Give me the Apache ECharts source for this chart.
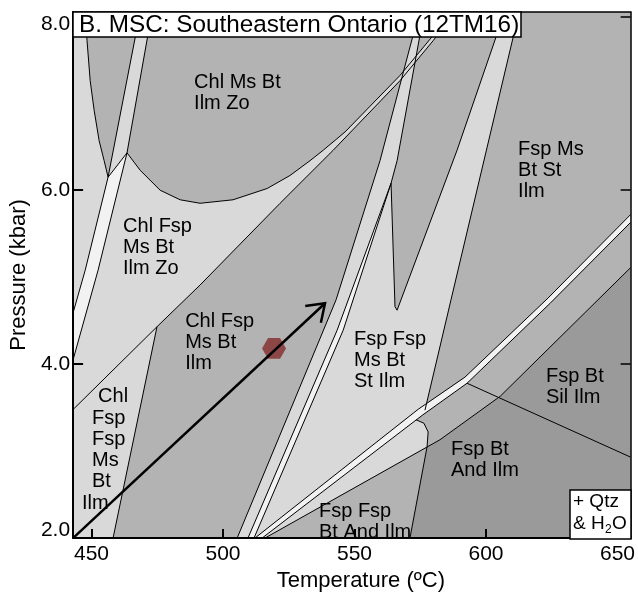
<!DOCTYPE html>
<html>
<head>
<meta charset="utf-8">
<script src="https://cdn.jsdelivr.net/npm/echarts@6/dist/echarts.min.js"></script>
<style>
html,body{margin:0;padding:0;background:#fff}
#chart{width:638px;height:597px}
</style>
</head>
<body>
<div id="chart"></div>
<script>
// Axis ticks
const tempTicks = [450, 500, 550, 600, 650];
const pressTicks = [2, 4, 6, 8];

// Phase boundaries, [T (°C), P (kbar)]
const parabola = [[447.6,8.05],[448.3,7.72],[449.5,7.26],[451.0,6.92],[452.9,6.57],[454.8,6.34],[456.3,6.15]];
const zoBandLeft = [[468.5,8.05],[456.3,6.15]];
const zoBandRight = [[473.0,8.05],[463.5,6.43]];
const zoCurve = [[463.5,6.43],[468.5,6.23],[476.1,6.00],[483.7,5.89],[491.3,5.85],[503.8,5.89],[516.8,6.02],[525.5,6.17],[533.1,6.34],[538.1,6.46],[546.4,6.67],[567.3,7.32],[579.9,7.78],[586.3,8.05]];
const diagLine = [[443.4,3.49],[474.9,4.43],[491.3,4.91],[521.7,5.85],[541.9,6.46],[567.3,7.26],[579.9,7.72],[588.2,8.05]];
const chlFspLine = [[474.9,4.43],[458.2,2.0]];
const leftStripA = [[456.3,6.15],[447.6,5.08],[443.0,4.59]];
const leftStripB = [[463.5,6.43],[452.5,5.08],[443.0,4.05]];
const leftStripTop = [[456.3,6.15],[463.5,6.43]];
const bandAL = [[574.6,8.05],[559.7,6.34],[543.0,4.74],[505.4,2.0]];
const bandAR = [[576.5,8.05],[566.2,6.34],[563.9,6.08]];
const stripL = [[563.9,6.08],[543.4,4.39],[509.5,2.0]];
const stripR = [[563.9,6.08],[545.7,4.39],[511.8,2.0]];
const wedgeL = [[563.9,6.08],[565.4,4.66],[566.2,4.62]];
const bandBL = [[566.2,4.62],[589.0,6.46],[603.8,7.76],[607.3,8.05]];
const bandBR = [[612.6,8.05],[586.7,4.74],[576.8,3.47]];
const cornerLine = [[573.4,3.36],[576.4,3.32],[578.0,3.22],[577.6,3.05],[571.1,2.0]];
const thinA = [[512.6,2.01],[574.2,3.48],[592.0,3.85],[623.6,4.76],[655,5.72]];
const thinB = [[514.9,2.0],[575.7,3.41],[592.8,3.78],[624.4,4.70],[655,5.63]];
const andLine = [[516.0,2.0],[582.5,3.13],[605.4,3.63],[655,5.11]];
const silLine = [[592.8,3.78],[655,2.93]];

// P–T path and sample estimate
const ptPath = [[443,2.0],[538.8,4.70]];
const sample = [519.4, 4.18];

// Field labels: text, T, P (top-left anchor)
const fieldLabels = [
  ['Chl Ms Bt\nIlm Zo', 489.0, 7.36],
  ['Chl Fsp\nMs Bt\nIlm Zo', 462.0, 5.70],
  ['Chl Fsp\nMs Bt\nIlm', 485.6, 4.61],
  ['Chl', 452.5, 3.75],
  ['Fsp\nFsp\nMs\nBt', 450.2, 3.49],
  ['Ilm', 446.4, 2.52],
  ['Fsp Ms\nBt St\nIlm', 612.2, 6.59],
  ['Fsp Fsp\nMs Bt\nSt Ilm', 549.8, 4.40],
  ['Fsp Bt\nSil Ilm', 622.8, 3.98],
  ['Fsp Bt\nAnd Ilm', 586.7, 3.14],
  ['Fsp Fsp\nBt And Ilm', 536.5, 2.43]
];

const FONT = '"Liberation Sans", Arial, Helvetica, sans-serif';
const LIGHT = '#d9d9d9', MED = '#b3b3b3', DARK = '#9a9a9a', WHITE = '#f2f2f2';
const rev = a => a.slice().reverse();

// Field polygons assembled from the boundaries
const fields = [
  [parabola.concat(rev(zoBandLeft)), MED],
  [zoBandRight.concat(zoCurve), MED],
  [[[458.2,2.0]].concat(diagLine.slice(1), rev(bandBL), rev(wedgeL).slice(1), stripL.slice(1)), MED],
  [bandAL.concat(rev(stripL), rev(bandAR)), LIGHT],
  [bandBR.concat(cornerLine.slice(0,4), andLine.slice(1), [[655,8.05]]), MED],
  [[[516.0,2.0],[577.6,3.05],[571.1,2.0]], MED],
  [[[577.6,3.05]].concat(andLine.slice(1), [[655,2.0],[571.1,2.0]]), DARK],
  [leftStripA.concat(rev(leftStripB)), WHITE],
  [stripL.concat(rev(stripR)), WHITE],
  [thinA.concat(rev(thinB)), WHITE]
];
const boundaries = [parabola, zoBandLeft, zoBandRight, zoCurve, diagLine, chlFspLine,
  leftStripA, leftStripB, leftStripTop, bandAL, bandAR, stripL, stripR, wedgeL,
  bandBL, bandBR, cornerLine, thinA, thinB, andLine, silLine];

function customBase(z, render) {
  return {
    type: 'custom', coordinateSystem: 'cartesian2d', clip: true, silent: true,
    animation: false, z: z, data: [[500, 4]], renderItem: render
  };
}

const series = [];
fields.forEach(([pts, color]) => {
  series.push(customBase(2, (p, api) => ({
    type: 'polygon',
    shape: { points: pts.map(q => api.coord(q)) },
    style: { fill: color, stroke: null }
  })));
});
series.push(customBase(3, (p, api) => ({
  type: 'group',
  children: boundaries.map(b => ({
    type: 'polyline',
    shape: { points: b.map(q => api.coord(q)) },
    style: { stroke: '#000', lineWidth: 1, fill: null }
  }))
})));
// sample hexagon
series.push(customBase(4, (p, api) => {
  const c = api.coord(sample), r = 12, pts = [];
  for (let k = 0; k < 6; k++) {
    const a = k * Math.PI / 3;
    pts.push([c[0] + r * Math.cos(a), c[1] + r * Math.sin(a)]);
  }
  return { type: 'polygon', shape: { points: pts }, style: { fill: '#8c4646' } };
}));
// P–T arrow
series.push(customBase(5, (p, api) => {
  const a = api.coord(ptPath[0]), b = api.coord(ptPath[1]);
  const ang = Math.atan2(b[1] - a[1], b[0] - a[0]) + Math.PI;
  const L = 20, phi = 35 * Math.PI / 180;
  const w1 = [b[0] + L * Math.cos(ang - phi), b[1] + L * Math.sin(ang - phi)];
  const w2 = [b[0] + L * Math.cos(ang + phi), b[1] + L * Math.sin(ang + phi)];
  return {
    type: 'group',
    children: [
      { type: 'line', shape: { x1: a[0], y1: a[1], x2: b[0], y2: b[1] }, style: { stroke: '#000', lineWidth: 2.5 } },
      { type: 'polyline', shape: { points: [w1, b, w2] }, style: { stroke: '#000', lineWidth: 2.5, fill: null, lineJoin: 'miter' } }
    ]
  };
}));
// field labels
series.push(customBase(6, (p, api) => ({
  type: 'group',
  children: fieldLabels.map(([t, x, y]) => {
    const c = api.coord([x, y]);
    return {
      type: 'text', x: c[0], y: c[1],
      style: { text: t, font: '20px ' + FONT, fill: '#000', verticalAlign: 'top', align: 'left', lineHeight: 21 }
    };
  })
})));

const chart = echarts.init(document.getElementById('chart'), null, { renderer: 'canvas' });
chart.setOption({
  animation: false,
  backgroundColor: '#fff',
  grid: { left: 73, right: 7, top: 12, bottom: 59, show: true, backgroundColor: LIGHT, borderWidth: 0 },
  xAxis: [{
    type: 'value', min: 443, max: 655, position: 'bottom', z: 10,
    name: 'Temperature (ºC)', nameLocation: 'middle', nameGap: 32,
    nameTextStyle: { fontSize: 22, fontFamily: FONT, color: '#000', padding: [0, 0, 0, 18] },
    axisLine: { lineStyle: { color: '#000', width: 2 } },
    axisTick: { inside: true, length: 9, customValues: tempTicks, lineStyle: { color: '#000', width: 2 } },
    axisLabel: { customValues: tempTicks, fontSize: 21, fontFamily: FONT, color: '#000', margin: 6, formatter: v => String(v) },
    splitLine: { show: false }
  }, {
    type: 'value', min: 443, max: 655, position: 'top', z: 10,
    axisLine: { lineStyle: { color: '#000', width: 1.5 } },
    axisTick: { show: false }, axisLabel: { show: false }, splitLine: { show: false }
  }],
  yAxis: [{
    type: 'value', min: 2, max: 8.05, position: 'left', z: 10,
    name: 'Pressure (kbar)', nameLocation: 'middle', nameGap: 43, nameRotate: 90,
    nameTextStyle: { fontSize: 22, fontFamily: FONT, color: '#000' },
    axisLine: { lineStyle: { color: '#000', width: 2 } },
    axisTick: { inside: true, length: 10, customValues: pressTicks, lineStyle: { color: '#000', width: 2 } },
    axisLabel: { customValues: pressTicks, fontSize: 21, lineHeight: 16, fontFamily: FONT, color: '#000', margin: 3,
      formatter: v => v.toFixed(1), verticalAlignMinLabel: 'bottom', verticalAlignMaxLabel: 'top' },
    splitLine: { show: false }
  }, {
    type: 'value', min: 2, max: 8.05, position: 'right', z: 10,
    axisLine: { lineStyle: { color: '#000', width: 1.5 } },
    axisTick: { inside: true, length: 10, customValues: pressTicks, lineStyle: { color: '#000', width: 1.5 } },
    axisLabel: { show: false }, splitLine: { show: false }
  }],
  graphic: [
    { type: 'rect', z: 100, shape: { x: 73, y: 12, width: 448, height: 25 }, style: { fill: '#fff', stroke: '#000', lineWidth: 1.5 } },
    { type: 'text', z: 101, x: 79, y: 25, style: { text: 'B. MSC: Southeastern Ontario (12TM16)', font: '24.3px ' + FONT, fill: '#000', verticalAlign: 'middle' } },
    { type: 'rect', z: 100, shape: { x: 570, y: 490, width: 61, height: 49 }, style: { fill: '#fff', stroke: '#000', lineWidth: 1.5 } },
    { type: 'text', z: 101, x: 573, y: 502, style: { text: '+ Qtz', font: '19px ' + FONT, fill: '#000', verticalAlign: 'middle' } },
    { type: 'text', z: 101, x: 573, y: 524, style: { text: '& H', font: '19px ' + FONT, fill: '#000', verticalAlign: 'middle' } },
    { type: 'text', z: 101, x: 605, y: 530, style: { text: '2', font: '12px ' + FONT, fill: '#000', verticalAlign: 'middle' } },
    { type: 'text', z: 101, x: 612, y: 524, style: { text: 'O', font: '19px ' + FONT, fill: '#000', verticalAlign: 'middle' } }
  ],
  series: series
});
</script>
</body>
</html>
